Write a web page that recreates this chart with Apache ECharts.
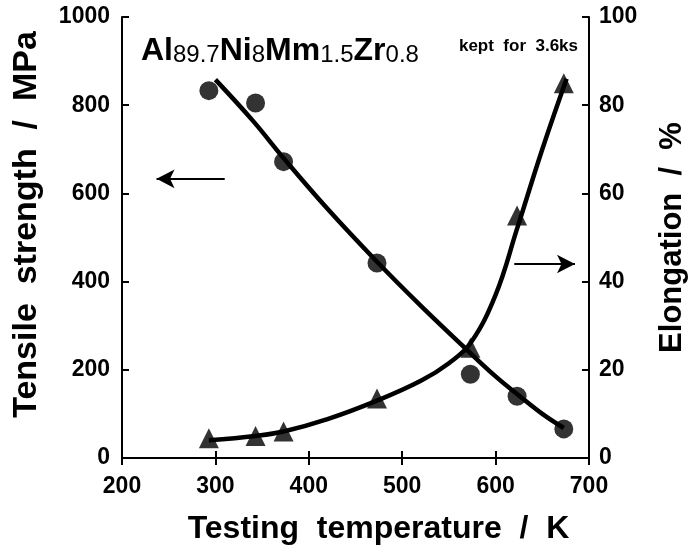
<!DOCTYPE html>
<html><head><meta charset="utf-8">
<script src="https://cdn.jsdelivr.net/npm/echarts@6/dist/echarts.min.js"></script>
<style>html,body{margin:0;padding:0;background:#fff}#c{width:688px;height:553px}</style>
</head><body><div id="c"></div>
<script>
// Measured points
const temperature = [293, 343, 373, 473, 573, 623, 673];
const tensileStrength = [833, 805, 672, 442, 190, 140, 66];
const elongation = [4.5, 5, 6, 13.5, 25, 55, 85];
// Hand-drawn trend curves
const strengthCurveT = [300, 340, 373, 420, 473, 520, 567, 600, 623, 650, 673];
const strengthCurve = [858, 765, 680, 565, 445, 345, 250, 185, 145, 100, 68];
const elongCurveT = [293, 343, 373, 420, 473, 520, 550, 573, 600, 623, 650, 676];
const elongCurve = [4, 5, 6, 8.8, 13, 17.5, 21.5, 26, 37, 52, 70, 86];
// Arrows (axis indicators), in data units
const leftArrow = [[310, 633], [237, 633]];
const rightArrow = [[620, 44], [685, 44]];

const FONT = "'Liberation Sans', Arial, Helvetica, sans-serif";
const zip = (a, b) => a.map((v, i) => [v, b[i]]);
const black = '#000';
const labelStyle = { color: black, fontSize: 23, fontWeight: 'bold', fontFamily: FONT, formatter: v => String(v) };
const nameStyle = { color: black, fontSize: 31, fontWeight: 'bold', fontFamily: FONT };
const axisCommon = {
  axisLine: { show: true, lineStyle: { color: black, width: 2 } },
  axisTick: { show: true, inside: true, length: 7, lineStyle: { color: black, width: 2 } },
  splitLine: { show: false }
};

const chart = echarts.init(document.getElementById('c'), null, { renderer: 'canvas' });
chart.setOption({
  backgroundColor: '#fff',
  animation: false,
  grid: { left: 122, right: 99, top: 17, bottom: 95, containLabel: false, outerBoundsMode: 'none' },
  title: [
    {
      left: 136, top: 30,
      text: '{a|Al}{b|89.7}{a|Ni}{b|8}{a|Mm}{b|1.5}{a|Zr}{b|0.8}',
      textStyle: {
        rich: {
          a: { fontSize: 32, fontWeight: 'bold', fontFamily: FONT, color: black, lineHeight: 32, verticalAlign: 'bottom' },
          b: { fontSize: 24, fontWeight: 'normal', fontFamily: FONT, color: black, lineHeight: 24, verticalAlign: 'bottom' }
        }
      }
    },
    {
      right: 105, top: 33,
      text: 'kept  for  3.6ks',
      textStyle: { fontSize: 17, fontWeight: 'bold', fontFamily: FONT, color: black }
    }
  ],
  xAxis: [
    Object.assign({}, axisCommon, {
      type: 'value', min: 200, max: 700, interval: 100, position: 'bottom',
      axisLabel: Object.assign({}, labelStyle, { margin: 17 }),
      name: 'Testing  temperature  /  K', nameLocation: 'middle', nameGap: 55,
      nameTextStyle: Object.assign({}, nameStyle, { fontSize: 32, padding: [0, 0, 0, 46] })
    }),
    Object.assign({}, axisCommon, {
      type: 'value', min: 200, max: 700, interval: 100, position: 'top',
      axisLabel: { show: false }
    })
  ],
  yAxis: [
    Object.assign({}, axisCommon, {
      type: 'value', min: 0, max: 1000, interval: 200, position: 'left',
      axisLabel: Object.assign({}, labelStyle, { margin: 12 }),
      name: 'Tensile  strength  /  MPa', nameLocation: 'middle', nameGap: 78,
      nameTextStyle: Object.assign({}, nameStyle, { fontSize: 34, padding: [0, 0, 0, 26] })
    }),
    Object.assign({}, axisCommon, {
      type: 'value', min: 0, max: 100, interval: 20, position: 'right',
      axisLabel: Object.assign({}, labelStyle, { margin: 10 }),
      name: 'Elongation  /  %', nameLocation: 'middle', nameGap: 68,
      nameTextStyle: nameStyle
    })
  ],
  series: [
    {
      type: 'line', xAxisIndex: 0, yAxisIndex: 0, smooth: 0.4, symbol: 'none',
      data: zip(strengthCurveT, strengthCurve),
      lineStyle: { color: black, width: 4.5 },
      markLine: {
        silent: true, symbol: ['none', 'arrow'], symbolSize: [14, 18],
        lineStyle: { color: black, width: 2, type: 'solid' }, label: { show: false },
        data: [[{ coord: leftArrow[0] }, { coord: leftArrow[1] }]]
      }
    },
    {
      type: 'scatter', xAxisIndex: 0, yAxisIndex: 0, symbol: 'circle', symbolSize: 19,
      data: zip(temperature, tensileStrength), itemStyle: { color: black }, z: 3
    },
    {
      type: 'line', xAxisIndex: 0, yAxisIndex: 1, smooth: 0.4, symbol: 'none',
      data: zip(elongCurveT, elongCurve),
      lineStyle: { color: black, width: 4.5 },
      markLine: {
        silent: true, symbol: ['none', 'arrow'], symbolSize: [14, 18],
        lineStyle: { color: black, width: 2, type: 'solid' }, label: { show: false },
        data: [[{ coord: rightArrow[0] }, { coord: rightArrow[1] }]]
      }
    },
    {
      type: 'scatter', xAxisIndex: 0, yAxisIndex: 1, symbol: 'triangle', symbolSize: 20,
      data: zip(temperature, elongation), itemStyle: { color: black }, z: 3
    }
  ]
});
</script></body></html>
